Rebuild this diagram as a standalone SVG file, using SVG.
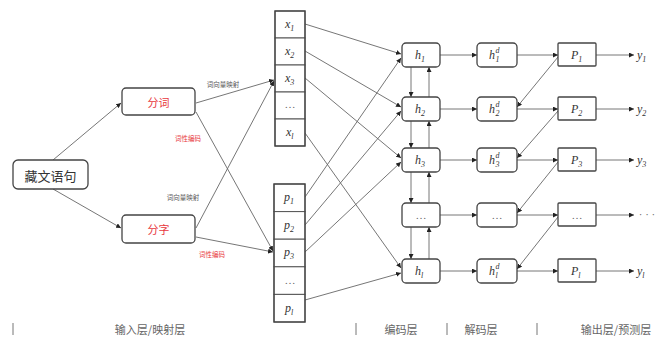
<svg xmlns="http://www.w3.org/2000/svg" width="660" height="341" viewBox="0 0 660 341">
<style>
.box{fill:#fff;stroke:#444;stroke-width:1.3}
.cell{fill:#fff;stroke:#555;stroke-width:1}
.ln{stroke:#666;stroke-width:0.9;fill:none;marker-end:url(#ah)}
.zh{font-family:"Noto Sans CJK SC","Noto Sans",sans-serif;text-anchor:middle;dominant-baseline:central}
.mt{font-family:"Liberation Serif",serif;font-style:italic;fill:#333}
.lab{font-size:6.5px;fill:#555}
.bot{font-size:11px;fill:#666}
text.red{fill:#e8383d}
.sep{stroke:#777;stroke-width:1}
.dots{font-family:"Liberation Serif",serif;fill:#666;font-size:11px;text-anchor:middle}
</style>
<defs>
<marker id="ah" viewBox="0 0 6 6" refX="6" refY="3" markerWidth="5" markerHeight="5" markerUnits="userSpaceOnUse" orient="auto">
<path d="M0,0 L6,3 L0,6 z" fill="#222"/>
</marker>
</defs>

<g id="connectors">
<line class="ln" x1="53" y1="160" x2="121" y2="103"/>
<line class="ln" x1="53" y1="189" x2="121" y2="228"/>
<line class="ln" x1="196" y1="103" x2="274" y2="80"/>
<line class="ln" x1="196" y1="112" x2="273" y2="251"/>
<line class="ln" x1="196" y1="228" x2="274" y2="81"/>
<line class="ln" x1="196" y1="237" x2="273" y2="252"/>
<line class="ln" x1="305" y1="24" x2="401" y2="54"/>
<line class="ln" x1="305" y1="51" x2="401" y2="107"/>
<line class="ln" x1="305" y1="78" x2="401" y2="158"/>
<line class="ln" x1="305" y1="133" x2="401" y2="268"/>
<line class="ln" x1="305" y1="197" x2="401" y2="58"/>
<line class="ln" x1="305" y1="225" x2="401" y2="111"/>
<line class="ln" x1="305" y1="252" x2="401" y2="162"/>
<line class="ln" x1="305" y1="300" x2="401" y2="273"/>
<line class="ln" x1="411" y1="67" x2="411" y2="97"/>
<line class="ln" x1="429" y1="97" x2="429" y2="67"/>
<line class="ln" x1="411" y1="121" x2="411" y2="148"/>
<line class="ln" x1="429" y1="148" x2="429" y2="121"/>
<line class="ln" x1="411" y1="172" x2="411" y2="203"/>
<line class="ln" x1="429" y1="203" x2="429" y2="172"/>
<line class="ln" x1="411" y1="227" x2="411" y2="259"/>
<line class="ln" x1="429" y1="259" x2="429" y2="227"/>
<line class="ln" x1="440" y1="55" x2="477" y2="55"/>
<line class="ln" x1="440" y1="109" x2="477" y2="109"/>
<line class="ln" x1="440" y1="160" x2="477" y2="160"/>
<line class="ln" x1="440" y1="215" x2="477" y2="215"/>
<line class="ln" x1="440" y1="271" x2="477" y2="271"/>
<line class="ln" x1="517" y1="55" x2="558" y2="55"/>
<line class="ln" x1="517" y1="109" x2="558" y2="109"/>
<line class="ln" x1="517" y1="160" x2="558" y2="160"/>
<line class="ln" x1="517" y1="215" x2="558" y2="215"/>
<line class="ln" x1="517" y1="271" x2="558" y2="271"/>
<line class="ln" x1="558" y1="57" x2="517" y2="107"/>
<line class="ln" x1="558" y1="111" x2="517" y2="158"/>
<line class="ln" x1="558" y1="162" x2="517" y2="213"/>
<line class="ln" x1="558" y1="217" x2="517" y2="269"/>
<line class="ln" x1="596" y1="55" x2="634" y2="55"/>
<line class="ln" x1="596" y1="109" x2="634" y2="109"/>
<line class="ln" x1="596" y1="160" x2="634" y2="160"/>
<line class="ln" x1="596" y1="215" x2="634" y2="215"/>
<line class="ln" x1="596" y1="271" x2="634" y2="271"/>
</g>

<g id="edge-labels">
<text class="zh lab" x="223" y="84">词向量映射</text>
<text class="zh lab red" x="188" y="138">词性编码</text>
<text class="zh lab" x="183" y="197">词向量映射</text>
<text class="zh lab red" x="212" y="254">词性编码</text>
</g>

<g id="sentence">
<rect class="box" x="13" y="160" width="75" height="29" rx="5"/>
<text class="zh" x="50.5" y="175" font-size="13" fill="#333">藏文语句</text>
</g>
<g id="fenci">
<rect class="box" x="122" y="88" width="73" height="27" rx="4"/>
<text class="zh red" x="158.5" y="101.5" font-size="11">分词</text>
</g>
<g id="fenzi">
<rect class="box" x="122" y="215" width="73" height="28" rx="4"/>
<text class="zh red" x="158.5" y="229" font-size="11">分字</text>
</g>

<g id="x-vector">
<rect class="cell" x="275" y="11" width="30" height="27"/>
<rect class="cell" x="275" y="38" width="30" height="27"/>
<rect class="cell" x="275" y="65" width="30" height="27"/>
<rect class="cell" x="275" y="92" width="30" height="27"/>
<rect class="cell" x="275" y="119" width="30" height="27"/>
<rect x="275" y="11" width="30" height="135" fill="none" stroke="#444" stroke-width="1.3"/>
<text class="mt" x="285" y="28" font-size="12">x<tspan font-size="8" dy="3">1</tspan></text>
<text class="mt" x="285" y="55" font-size="12">x<tspan font-size="8" dy="3">2</tspan></text>
<text class="mt" x="285" y="82" font-size="12">x<tspan font-size="8" dy="3">3</tspan></text>
<text class="dots" x="290" y="108">…</text>
<text class="mt" x="286" y="136" font-size="12">x<tspan font-size="8" dy="3">l</tspan></text>
</g>

<g id="p-vector">
<rect class="cell" x="274" y="184" width="31" height="27.6"/>
<rect class="cell" x="274" y="211.6" width="31" height="27.6"/>
<rect class="cell" x="274" y="239.2" width="31" height="27.6"/>
<rect class="cell" x="274" y="266.8" width="31" height="27.6"/>
<rect class="cell" x="274" y="294.4" width="31" height="27.6"/>
<rect x="274" y="184" width="31" height="138" fill="none" stroke="#444" stroke-width="1.3"/>
<text class="mt" x="284" y="201" font-size="12">p<tspan font-size="8" dy="3">1</tspan></text>
<text class="mt" x="284" y="229" font-size="12">p<tspan font-size="8" dy="3">2</tspan></text>
<text class="mt" x="284" y="256" font-size="12">p<tspan font-size="8" dy="3">3</tspan></text>
<text class="dots" x="290" y="284">…</text>
<text class="mt" x="285" y="312" font-size="12">p<tspan font-size="8" dy="3">l</tspan></text>
</g>

<g id="h1"><rect class="box" x="402" y="43" width="38" height="24" rx="4"/><text class="mt" x="415" y="59" font-size="12">h<tspan font-size="8" dy="3">1</tspan></text></g>
<g id="h2"><rect class="box" x="402" y="97" width="38" height="24" rx="4"/><text class="mt" x="415" y="113" font-size="12">h<tspan font-size="8" dy="3">2</tspan></text></g>
<g id="h3"><rect class="box" x="402" y="148" width="38" height="24" rx="4"/><text class="mt" x="415" y="164" font-size="12">h<tspan font-size="8" dy="3">3</tspan></text></g>
<g id="hdots"><rect class="box" x="402" y="203" width="38" height="24" rx="4"/><text class="dots" x="421" y="219">…</text></g>
<g id="hl"><rect class="box" x="402" y="259" width="38" height="24" rx="4"/><text class="mt" x="415" y="275" font-size="12">h<tspan font-size="8" dy="3">l</tspan></text></g>

<g id="hd1"><rect class="box" x="477" y="43" width="40" height="24" rx="4"/><text class="mt" x="489" y="59" font-size="12">h</text><text class="mt" x="495.5" y="62" font-size="8">1</text><text class="mt" x="495.5" y="53" font-size="8">d</text></g>
<g id="hd2"><rect class="box" x="477" y="97" width="40" height="24" rx="4"/><text class="mt" x="489" y="113" font-size="12">h</text><text class="mt" x="495.5" y="116" font-size="8">2</text><text class="mt" x="495.5" y="107" font-size="8">d</text></g>
<g id="hd3"><rect class="box" x="477" y="148" width="40" height="24" rx="4"/><text class="mt" x="489" y="164" font-size="12">h</text><text class="mt" x="495.5" y="167" font-size="8">3</text><text class="mt" x="495.5" y="158" font-size="8">d</text></g>
<g id="hddots"><rect class="box" x="477" y="203" width="40" height="24" rx="4"/><text class="dots" x="497" y="219">…</text></g>
<g id="hdl"><rect class="box" x="477" y="259" width="40" height="24" rx="4"/><text class="mt" x="489" y="275" font-size="12">h</text><text class="mt" x="495.5" y="278" font-size="8">l</text><text class="mt" x="495.5" y="269" font-size="8">d</text></g>

<g id="P1"><rect class="box" x="558" y="43" width="38" height="23" rx="1"/><text class="mt" x="571" y="59" font-size="12">P<tspan font-size="8" dy="3">1</tspan></text></g>
<g id="P2"><rect class="box" x="558" y="97" width="38" height="23" rx="1"/><text class="mt" x="571" y="113" font-size="12">P<tspan font-size="8" dy="3">2</tspan></text></g>
<g id="P3"><rect class="box" x="558" y="148" width="38" height="23" rx="1"/><text class="mt" x="571" y="164" font-size="12">P<tspan font-size="8" dy="3">3</tspan></text></g>
<g id="Pdots"><rect class="box" x="558" y="203" width="38" height="23" rx="1"/><text class="dots" x="577" y="219">…</text></g>
<g id="Pl"><rect class="box" x="558" y="259" width="38" height="23" rx="1"/><text class="mt" x="571" y="275" font-size="12">P<tspan font-size="8" dy="3">l</tspan></text></g>

<g id="outputs">
<text class="mt" x="637" y="59" font-size="12">y<tspan font-size="8" dy="3">1</tspan></text>
<text class="mt" x="637" y="113" font-size="12">y<tspan font-size="8" dy="3">2</tspan></text>
<text class="mt" x="637" y="164" font-size="12">y<tspan font-size="8" dy="3">3</tspan></text>
<text class="dots" x="647" y="218">· · ·</text>
<text class="mt" x="637" y="275" font-size="12">y<tspan font-size="8" dy="3">l</tspan></text>
</g>

<g id="layer-labels">
<line class="sep" x1="13" y1="323" x2="13" y2="335"/>
<line class="sep" x1="356" y1="323" x2="356" y2="335"/>
<line class="sep" x1="447" y1="323" x2="447" y2="335"/>
<line class="sep" x1="537" y1="323" x2="537" y2="335"/>
<text class="zh bot" x="150" y="329">输入层/映射层</text>
<text class="zh bot" x="401" y="329">编码层</text>
<text class="zh bot" x="481" y="329">解码层</text>
<text class="zh bot" x="616" y="329">输出层/预测层</text>
</g>
</svg>
